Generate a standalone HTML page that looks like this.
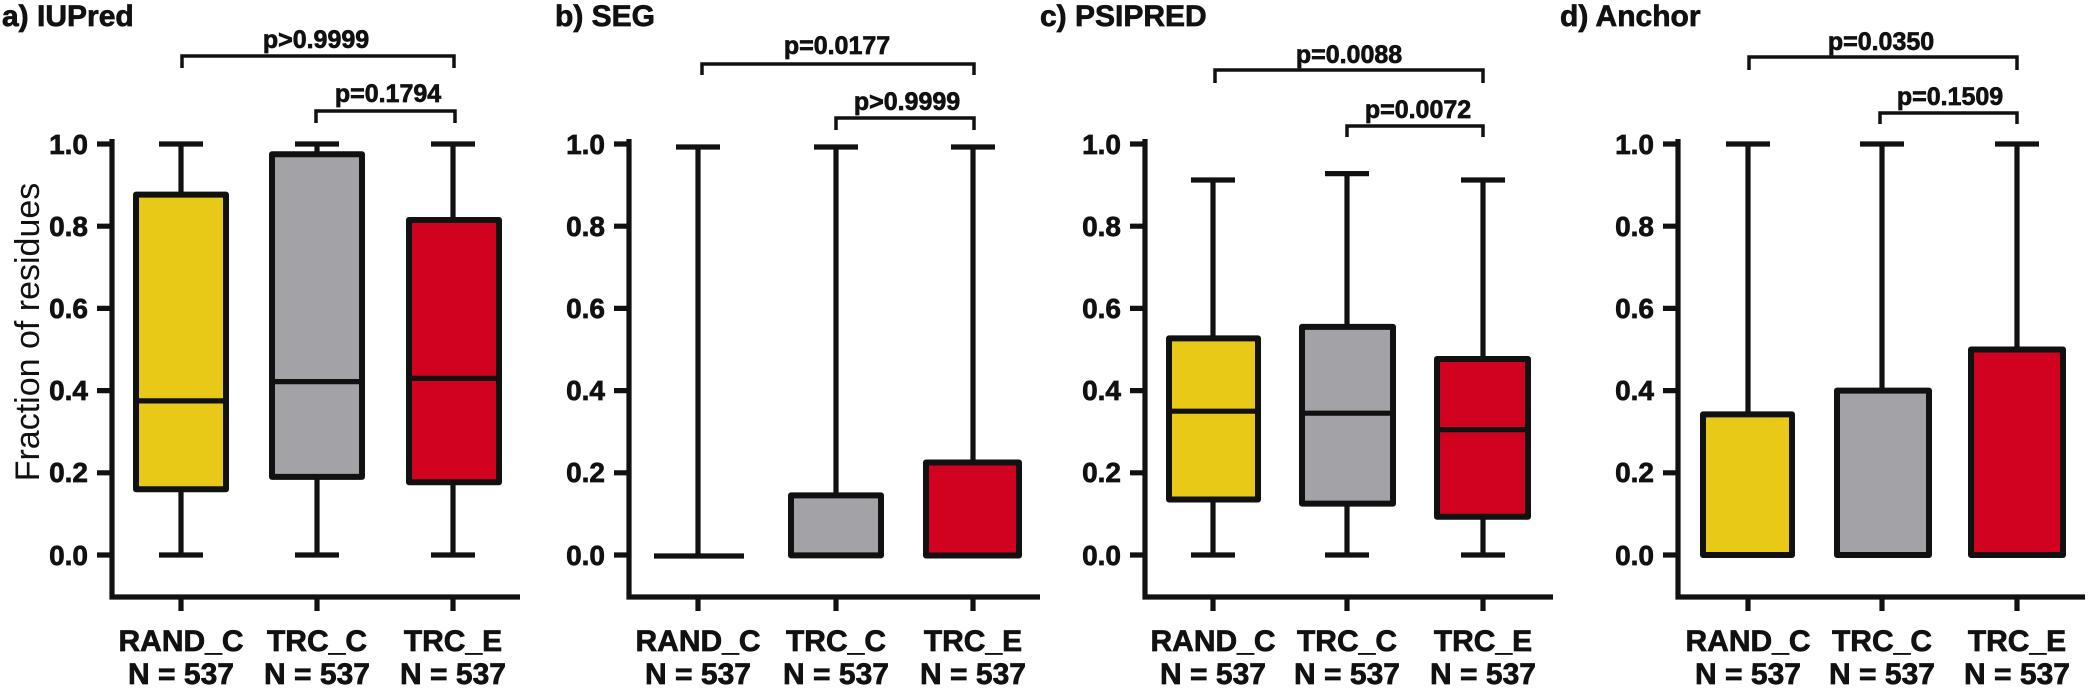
<!DOCTYPE html>
<html><head><meta charset="utf-8"><style>
html,body{margin:0;padding:0;background:#fff}
svg{display:block}
text{font-family:"Liberation Sans",Arial,sans-serif;fill:#111}
.t,.tk,.cl,.p{stroke:#111;stroke-width:0.7px}
.t{font-weight:bold;font-size:30px}
.tk{font-weight:bold;font-size:28px;text-anchor:end}
.cl{font-weight:bold;font-size:30px;text-anchor:middle}
.p{font-weight:bold;font-size:25px;text-anchor:middle}
.ln{stroke:#111;stroke-width:5.2;fill:none}
.bx{stroke:#111;stroke-width:6;stroke-linejoin:round}
.br{stroke:#111;stroke-width:3.5;fill:none}
</style></head><body>
<svg width="2100" height="689" viewBox="0 0 2100 689" xmlns="http://www.w3.org/2000/svg">
<text x="30" y="332" transform="rotate(-90 30 332)" style="font-size:34px;text-anchor:middle;dominant-baseline:middle">Fraction of residues</text>

<text class="t" x="2" y="26">a) IUPred</text>
<g>
<path class="ln" d="M112,139V597H520M97,144H112M97,226.2H112M97,308.4H112M97,390.6H112M97,472.8H112M97,555H112M181,597V611M317,597V611M453,597V611"/>
<text class="tk" x="88" y="154">1.0</text><text class="tk" x="88" y="236">0.8</text><text class="tk" x="88" y="318">0.6</text><text class="tk" x="88" y="400">0.4</text><text class="tk" x="88" y="482">0.2</text><text class="tk" x="88" y="565">0.0</text>
<path class="ln" d="M181,144V195M159,144H203M181,489V555M159,555H203"/>
<rect class="bx" x="136" y="194.6" width="90" height="294.6" fill="#E8C917"/>
<path class="ln" d="M136,400.9H226"/>
<path class="ln" d="M317,144V155M295,144H339M317,477V555M295,555H339"/>
<rect class="bx" x="272" y="154.3" width="90" height="322.6" fill="#A3A3A7"/>
<path class="ln" d="M272,381.6H362"/>
<path class="ln" d="M453,144V220M431,144H475M453,482V555M431,555H475"/>
<rect class="bx" x="409" y="220" width="90" height="262.3" fill="#D0021F"/>
<path class="ln" d="M409,378.3H499"/>
<path class="br" d="M182,68V56H454V68M316,123V111H455V123"/>
<text class="p" x="316" y="48">p&gt;0.9999</text>
<text class="p" x="388" y="102">p=0.1794</text>
<text class="cl" x="181" y="651">RAND_C</text><text class="cl" x="317" y="651">TRC_C</text><text class="cl" x="453" y="651">TRC_E</text>
<text class="cl" x="181" y="684">N = 537</text><text class="cl" x="317" y="684">N = 537</text><text class="cl" x="453" y="684">N = 537</text>
</g>

<text class="t" x="555" y="26">b) SEG</text>
<g>
<path class="ln" d="M629,139V597H1040M614,144H629M614,226.2H629M614,308.4H629M614,390.6H629M614,472.8H629M614,555H629M698,597V611M836,597V611M973,597V611"/>
<text class="tk" x="605" y="154">1.0</text><text class="tk" x="605" y="236">0.8</text><text class="tk" x="605" y="318">0.6</text><text class="tk" x="605" y="400">0.4</text><text class="tk" x="605" y="482">0.2</text><text class="tk" x="605" y="565">0.0</text>
<path class="ln" d="M698,147V556M676,147H720M654,556H744"/>
<path class="ln" d="M836,147V495M814,147H858"/>
<rect class="bx" x="791" y="495.4" width="90" height="60" fill="#A3A3A7"/>
<path class="ln" d="M973,147V463M951,147H995"/>
<rect class="bx" x="926" y="462.5" width="93" height="93" fill="#D0021F"/>
<path class="br" d="M702,75V64H974V75M836,130V118H974V130"/>
<text class="p" x="837" y="54">p=0.0177</text>
<text class="p" x="907" y="110">p&gt;0.9999</text>
<text class="cl" x="698" y="651">RAND_C</text><text class="cl" x="836" y="651">TRC_C</text><text class="cl" x="973" y="651">TRC_E</text>
<text class="cl" x="698" y="684">N = 537</text><text class="cl" x="836" y="684">N = 537</text><text class="cl" x="973" y="684">N = 537</text>
</g>

<text class="t" x="1040" y="26">c) PSIPRED</text>
<g>
<path class="ln" d="M1145,139V597H1553M1130,144H1145M1130,226.2H1145M1130,308.4H1145M1130,390.6H1145M1130,472.8H1145M1130,555H1145M1213,597V611M1347,597V611M1483,597V611"/>
<text class="tk" x="1121" y="154">1.0</text><text class="tk" x="1121" y="236">0.8</text><text class="tk" x="1121" y="318">0.6</text><text class="tk" x="1121" y="400">0.4</text><text class="tk" x="1121" y="482">0.2</text><text class="tk" x="1121" y="565">0.0</text>
<path class="ln" d="M1213,180V338M1191,180H1235M1213,499V555M1191,555H1235"/>
<rect class="bx" x="1169" y="338.4" width="89" height="161.1" fill="#E8C917"/>
<path class="ln" d="M1169,411.2H1258"/>
<path class="ln" d="M1347,173.6V327M1325,173.6H1369M1347,503V555M1325,555H1369"/>
<rect class="bx" x="1302" y="326.9" width="91" height="176.7" fill="#A3A3A7"/>
<path class="ln" d="M1302,413.2H1393"/>
<path class="ln" d="M1483,180V359M1461,180H1505M1483,517V555M1461,555H1505"/>
<rect class="bx" x="1437" y="359" width="91" height="157.8" fill="#D0021F"/>
<path class="ln" d="M1437,429.6H1528"/>
<path class="br" d="M1215,83V70H1483V83M1347,137V126H1483V137"/>
<text class="p" x="1349" y="63">p=0.0088</text>
<text class="p" x="1418" y="118">p=0.0072</text>
<text class="cl" x="1213" y="651">RAND_C</text><text class="cl" x="1347" y="651">TRC_C</text><text class="cl" x="1483" y="651">TRC_E</text>
<text class="cl" x="1213" y="684">N = 537</text><text class="cl" x="1347" y="684">N = 537</text><text class="cl" x="1483" y="684">N = 537</text>
</g>

<text class="t" x="1560" y="26">d) Anchor</text>
<g>
<path class="ln" d="M1678,139V597H2085M1663,144H1678M1663,226.2H1678M1663,308.4H1678M1663,390.6H1678M1663,472.8H1678M1663,555H1678M1748,597V611M1882,597V611M2017,597V611"/>
<text class="tk" x="1654" y="154">1.0</text><text class="tk" x="1654" y="236">0.8</text><text class="tk" x="1654" y="318">0.6</text><text class="tk" x="1654" y="400">0.4</text><text class="tk" x="1654" y="482">0.2</text><text class="tk" x="1654" y="565">0.0</text>
<path class="ln" d="M1748,144V414M1726,144H1770"/>
<rect class="bx" x="1703" y="414.4" width="89" height="140.6" fill="#E8C917"/>
<path class="ln" d="M1882,144V391M1860,144H1904"/>
<rect class="bx" x="1837" y="390.6" width="92" height="164.4" fill="#A3A3A7"/>
<path class="ln" d="M2017,144V350M1995,144H2039"/>
<rect class="bx" x="1971" y="349.5" width="92" height="205.5" fill="#D0021F"/>
<path class="br" d="M1749,70V57H2017V70M1880,124V113H2017V124"/>
<text class="p" x="1881" y="50">p=0.0350</text>
<text class="p" x="1950" y="105">p=0.1509</text>
<text class="cl" x="1748" y="651">RAND_C</text><text class="cl" x="1882" y="651">TRC_C</text><text class="cl" x="2017" y="651">TRC_E</text>
<text class="cl" x="1748" y="684">N = 537</text><text class="cl" x="1882" y="684">N = 537</text><text class="cl" x="2017" y="684">N = 537</text>
</g>
</svg>
</body></html>
